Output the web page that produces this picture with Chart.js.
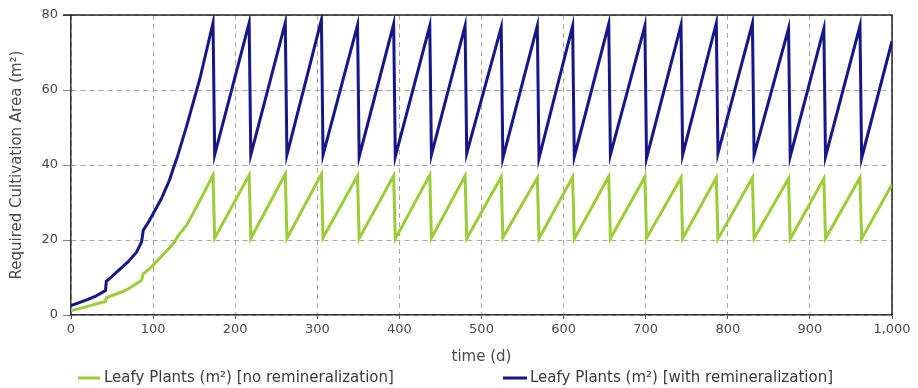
<!DOCTYPE html>
<html lang="en">
<head>
<meta charset="UTF-8">
<title>Required Cultivation Area</title>
<script src="https://cdn.jsdelivr.net/npm/chart.js"></script>
<style>
    body {
        margin: 0;
        background: #ffffff;
    }
    .chart-box {
        position: relative;
        width: 918px;
        height: 388px;
    }
</style>
</head>
<body>
<div class="chart-box"><canvas id="areaChart"></canvas></div>
<script>
// growth phase before the first harvest (days, m²)
const growthDays  = [0, 10, 20, 30, 42, 43, 50, 60, 70, 80, 86, 88, 95, 100, 110, 120, 126, 130, 141, 157];
const growthBlue  = [2.5, 3.3, 4.1, 5.0, 6.5, 9.0, 10.3, 12.3, 14.3, 16.8, 19.5, 22.6, 25.0, 27.0, 31.0, 36.0, 40.0, 42.5, 50.5, 63.0];
const growthGreen = [1.2, 1.7, 2.3, 2.9, 3.6, 4.6, 5.2, 6.0, 7.0, 8.4, 9.3, 11.0, 12.2, 13.3, 15.6, 17.9, 19.4, 21.0, 24.0, 30.5];

// harvest cycles: day of the peak, day the curve is back at its low point
const peakDays   = [173, 217, 261, 305, 349, 393, 437, 480, 524, 568, 611, 655, 699, 743, 786, 830, 874, 917, 961];
const lowDays    = [175, 219, 263, 307, 351, 395, 439, 482, 526, 570, 613, 657, 701, 745, 788, 832, 876, 919, 963];
const peakBlue   = [77.9, 77.9, 77.9, 78.7, 77.3, 77.6, 77.1, 77.1, 76.7, 77.1, 77.1, 77.6, 77.1, 77.3, 77.8, 77.8, 76.4, 76.4, 77.1];
const lowBlue    = [42.7, 42.7, 42.7, 42.7, 42.2, 42.2, 42.7, 43.1, 41.8, 41.8, 42.2, 42.7, 41.8, 42.7, 43.1, 42.7, 42.2, 42.2, 41.8];
const peakGreen  = [37.3, 37.3, 37.6, 37.6, 37.1, 37.1, 37.3, 37.1, 36.8, 36.6, 36.8, 36.9, 36.8, 36.6, 36.6, 36.6, 36.4, 36.4, 36.6];
const lowGreen   = [20.5, 20.4, 20.4, 20.6, 20.4, 20.3, 20.5, 20.4, 20.6, 20.4, 20.3, 20.4, 20.5, 20.4, 20.3, 20.4, 20.3, 20.4, 20.3];

const lastDay = 1000;
const lastBlue = 73.0;
const lastGreen = 34.8;

const xTicks = [0, 100, 200, 300, 400, 500, 600, 700, 800, 900, 1000];
const yTicks = [0, 20, 40, 60, 80];

const seriesNames = [
    'Leafy Plants (m²) [no remineralization]',
    'Leafy Plants (m²) [with remineralization]'
];

function buildSeries(growth, peaks, lows, last) {
    const pts = growthDays.map((d, i) => ({ x: d, y: growth[i] }));
    peakDays.forEach((d, i) => {
        pts.push({ x: d, y: peaks[i] });
        pts.push({ x: lowDays[i], y: lows[i] });
    });
    pts.push({ x: lastDay, y: last });
    return pts;
}

const textFont = 'DejaVu Sans';
const textColor = '#4a4a4a';

// frame: solid top and right edges of the plot
const framePlugin = {
    id: 'frame',
    beforeDatasetsDraw(chart) {
        const { ctx, chartArea: a } = chart;
        ctx.save();
        ctx.strokeStyle = '#222222';
        ctx.lineWidth = 1.5;
        ctx.beginPath();
        ctx.moveTo(a.left - 8, a.top);
        ctx.lineTo(a.right, a.top);
        ctx.lineTo(a.right, a.bottom);
        ctx.stroke();
        ctx.restore();
    }
};

// legend row under the axis title
const legendRow = {
    id: 'legendRow',
    afterDraw(chart) {
        const ctx = chart.ctx;
        const spots = [
            { line: [78, 100], text: 104 },
            { line: [503, 527], text: 530 }
        ];
        const y = 378;
        ctx.save();
        ctx.font = '15px "' + textFont + '"';
        ctx.textBaseline = 'middle';
        ctx.textAlign = 'left';
        chart.data.datasets.forEach((ds, i) => {
            const s = spots[i];
            ctx.strokeStyle = ds.borderColor;
            ctx.lineWidth = 3;
            ctx.beginPath();
            ctx.moveTo(s.line[0], y);
            ctx.lineTo(s.line[1], y);
            ctx.stroke();
            ctx.fillStyle = '#3a3a3a';
            ctx.fillText(ds.label, s.text, y);
        });
        ctx.restore();
    }
};

new Chart(document.getElementById('areaChart'), {
    type: 'line',
    data: {
        datasets: [
            {
                label: seriesNames[0],
                data: buildSeries(growthGreen, peakGreen, lowGreen, lastGreen),
                borderColor: '#9acd36',
                borderWidth: 3,
                pointRadius: 0,
                tension: 0
            },
            {
                label: seriesNames[1],
                data: buildSeries(growthBlue, peakBlue, lowBlue, lastBlue),
                borderColor: '#15168a',
                borderWidth: 3,
                pointRadius: 0,
                tension: 0
            }
        ]
    },
    options: {
        responsive: true,
        maintainAspectRatio: false,
        animation: false,
        locale: 'en-US',
        layout: { padding: { top: 15, right: 26, bottom: 22, left: 0 } },
        plugins: {
            legend: { display: false },
            tooltip: { enabled: false }
        },
        scales: {
            x: {
                type: 'linear',
                min: xTicks[0],
                max: xTicks[xTicks.length - 1],
                afterBuildTicks: (s) => { s.ticks = xTicks.map(v => ({ value: v })); },
                afterFit: (s) => { s.height = 51; },
                ticks: {
                    color: textColor,
                    font: { family: textFont, size: 13 },
                    padding: 3,
                    maxRotation: 0
                },
                grid: { color: '#a8a8a8', tickLength: 4, tickColor: '#555555' },
                border: { color: '#333333', width: 1.5, dash: [5, 4] },
                title: {
                    display: true,
                    text: 'time (d)',
                    color: textColor,
                    font: { family: textFont, size: 15 },
                    padding: { top: 0, bottom: 0 }
                }
            },
            y: {
                min: yTicks[0],
                max: yTicks[yTicks.length - 1],
                afterBuildTicks: (s) => { s.ticks = yTicks.map(v => ({ value: v })); },
                afterFit: (s) => { s.width = 71; },
                ticks: {
                    color: textColor,
                    font: { family: textFont, size: 13 },
                    padding: 5
                },
                grid: { color: '#a8a8a8', tickLength: 8, tickColor: '#888888' },
                border: { color: '#333333', width: 1.5, dash: [5, 4] },
                title: {
                    display: true,
                    text: 'Required Cultivation Area (m²)',
                    color: textColor,
                    font: { family: textFont, size: 15 },
                    padding: { top: 8, bottom: 0 }
                }
            }
        }
    },
    plugins: [framePlugin, legendRow]
});
</script>
</body>
</html>
